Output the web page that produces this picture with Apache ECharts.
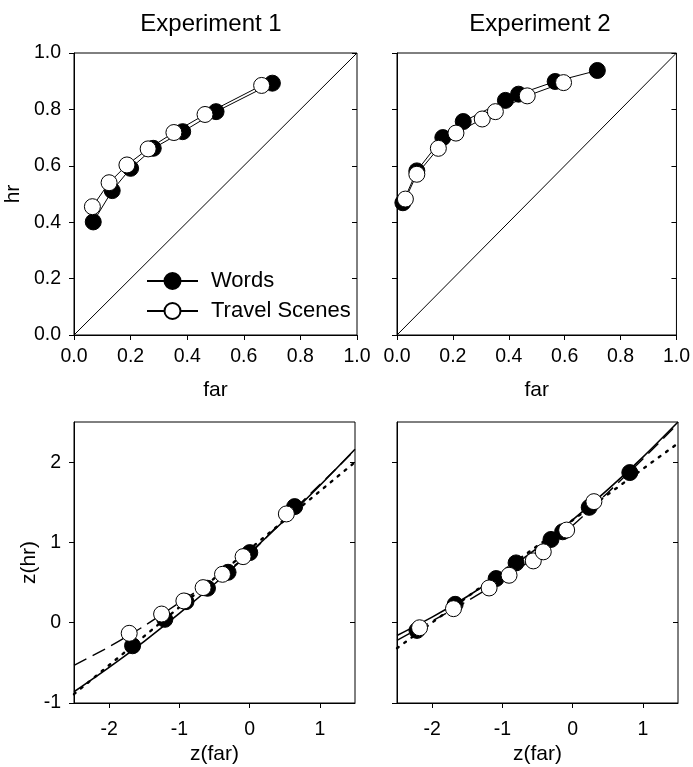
<!DOCTYPE html>
<html>
<head>
<meta charset="utf-8">
<script src="https://cdn.jsdelivr.net/npm/echarts@6/dist/echarts.min.js"></script>
<style>html,body{margin:0;padding:0;background:#fff}#c{width:693px;height:767px}</style>
</head>
<body>
<div id="c"></div>
<script>
// ---- Data ----
const panelTitles = ['Experiment 1', 'Experiment 2'];
const probTicks = [0, 0.2, 0.4, 0.6, 0.8, 1.0];
const zXTicks = [-2, -1, 0, 1];
const zYTicks = [-1, 0, 1, 2];

const exp1WordsFar  = [0.068, 0.135, 0.200, 0.280, 0.384, 0.502, 0.701];
const exp1WordsHr   = [0.401, 0.512, 0.591, 0.662, 0.721, 0.792, 0.893];
const exp1ScenesFar = [0.065, 0.124, 0.187, 0.262, 0.353, 0.463, 0.663];
const exp1ScenesHr  = [0.455, 0.540, 0.603, 0.660, 0.718, 0.782, 0.885];

const exp2WordsFar  = [0.021, 0.071, 0.164, 0.237, 0.388, 0.435, 0.566, 0.717];
const exp2WordsHr   = [0.469, 0.582, 0.700, 0.757, 0.832, 0.854, 0.899, 0.938];
const exp2ScenesFar = [0.030, 0.071, 0.148, 0.211, 0.305, 0.352, 0.466, 0.596];
const exp2ScenesHr  = [0.482, 0.570, 0.662, 0.716, 0.766, 0.792, 0.848, 0.895];

const chanceX = [0, 1];
const chanceY = [0, 1];

const zExp1WordsFar  = [-1.666, -1.207, -0.906, -0.600, -0.307, 0.002, 0.641];
const zExp1WordsHr   = [-0.287, 0.042, 0.262, 0.429, 0.628, 0.873, 1.446];
const zExp1ScenesFar = [-1.714, -1.253, -0.936, -0.662, -0.386, -0.093, 0.523];
const zExp1ScenesHr  = [-0.132, 0.108, 0.271, 0.437, 0.603, 0.823, 1.355];

const zExp2WordsFar  = [-2.216, -1.672, -1.089, -0.805, -0.308, -0.142, 0.236, 0.814];
const zExp2WordsHr   = [-0.096, 0.229, 0.550, 0.745, 1.037, 1.133, 1.437, 1.870];
const zExp2ScenesFar = [-2.179, -1.696, -1.189, -0.905, -0.560, -0.418, -0.085, 0.303];
const zExp2ScenesHr  = [-0.063, 0.175, 0.433, 0.591, 0.770, 0.883, 1.154, 1.508];

// fitted curves
const fitX = [-2.5, -2, -1.5, -1, -0.5, 0, 0.5, 1, 1.5];
const fit1SolidY  = [-0.86, -0.556, -0.231, 0.115, 0.482, 0.87, 1.279, 1.709, 2.16];
const fit1DashedY = [-0.53, -0.30, -0.04, 0.25, 0.54, 0.86, 1.30, 1.72, 2.15];
const fit1DotX = [-2.5, 1.5];
const fit1DotY = [-0.89, 2.0];
const fit2SolidY  = [-0.16, 0.069, 0.327, 0.615, 0.933, 1.28, 1.657, 2.063, 2.5];
const fit2DashedY = [-0.22, 0.02, 0.27, 0.54, 0.84, 1.21, 1.62, 2.04, 2.48];
const fit2DotX = [-2.5, 1.5];
const fit2DotY = [-0.317, 2.235];

// ---- helpers ----
const FONT = '"Liberation Sans", Arial, sans-serif';
const TICK_FS = 19.5;
const NAME_FS = 21;
const zip = (a, b) => a.map((v, i) => [v, b[i]]);

const grids = [
  { left: 74, top: 53, width: 283, height: 282 },
  { left: 397, top: 53, width: 282, height: 282 },
  { left: 74, top: 422, width: 281, height: 281 },
  { left: 397, top: 422, width: 281, height: 281 }
].map(g => Object.assign({ show: true, borderColor: '#000', borderWidth: 1, containLabel: false }, g));

function xAx(gi, isZ) {
  const base = {
    gridIndex: gi, type: 'value', position: 'bottom',
    axisLine: { show: true, onZero: false, lineStyle: { color: '#000', width: 1 } },
    axisTick: { show: true, inside: false, length: 5, lineStyle: { color: '#000' } },
    splitLine: { show: false },
    axisLabel: { color: '#000', fontSize: TICK_FS, fontFamily: FONT },
    nameLocation: 'middle',
    nameTextStyle: { color: '#000', fontSize: NAME_FS, fontFamily: FONT }
  };
  if (isZ) {
    base.min = -2.5; base.max = 1.5;
    base.axisTick.customValues = zXTicks;
    base.axisLabel.customValues = zXTicks;
    base.axisLabel.margin = 17;
    base.name = 'z(far)'; base.nameGap = 41;
  } else {
    base.min = 0; base.max = 1; base.interval = 0.2;
    base.axisTick.customValues = probTicks;
    base.axisLabel.customValues = probTicks;
    base.axisLabel.formatter = v => v.toFixed(1);
    base.axisLabel.margin = 12;
    base.name = 'far'; base.nameGap = 45;
  }
  return base;
}
function yAx(gi, isZ, showLabels, right) {
  const base = {
    gridIndex: gi, type: 'value', position: right ? 'right' : 'left',
    axisLine: { show: !right, onZero: false, lineStyle: { color: '#000', width: 1 } },
    axisTick: { show: true, inside: !!right, length: 5, lineStyle: { color: '#000' } },
    splitLine: { show: false },
    axisLabel: { show: showLabels && !right, color: '#000', fontSize: TICK_FS, fontFamily: FONT, margin: 13 },
    nameLocation: 'middle',
    nameTextStyle: { color: '#000', fontSize: NAME_FS, fontFamily: FONT }
  };
  if (isZ) {
    base.min = -1; base.max = 2.5;
    base.axisTick.customValues = zYTicks;
    base.axisLabel.customValues = zYTicks;
    if (showLabels && !right) { base.name = 'z(hr)'; base.nameGap = 32; }
  } else {
    base.min = 0; base.max = 1; base.interval = 0.2;
    base.axisTick.customValues = probTicks;
    base.axisLabel.customValues = probTicks;
    base.axisLabel.formatter = v => v.toFixed(1);
    if (showLabels && !right) { base.name = 'hr'; base.nameGap = 50; }
  }
  return base;
}

const xAxis = [xAx(0, false), xAx(1, false), xAx(2, true), xAx(3, true)];
const yAxis = [
  yAx(0, false, true, false), yAx(1, false, false, false),
  yAx(2, true, true, false), yAx(3, true, false, false),
  yAx(0, false, false, true), yAx(1, false, false, true),
  yAx(2, true, false, true), yAx(3, true, false, true)
];

const SYM = 16;
function wordsSeries(xi, data, withLine) {
  return {
    name: 'Words', type: withLine ? 'line' : 'scatter', xAxisIndex: xi, yAxisIndex: xi,
    data: data, symbol: 'circle', symbolSize: SYM, z: 3,
    itemStyle: { color: '#000', borderColor: '#000', borderWidth: 1, opacity: 1 },
    lineStyle: { color: '#000', width: 1 }, animation: false, silent: true
  };
}
function scenesSeries(xi, data, withLine) {
  return {
    name: 'Travel Scenes', type: withLine ? 'line' : 'scatter', xAxisIndex: xi, yAxisIndex: xi,
    data: data, symbol: 'circle', symbolSize: SYM, z: 4,
    itemStyle: { color: '#fff', borderColor: '#000', borderWidth: 1, opacity: 1 },
    lineStyle: { color: '#000', width: 1 }, animation: false, silent: true
  };
}
function fitLine(xi, data, type, width) {
  return {
    type: 'line', xAxisIndex: xi, yAxisIndex: xi, data: data, showSymbol: false, symbol: 'none',
    smooth: type === 'dotted' ? false : 0.3, z: 2, clip: true,
    lineStyle: { color: '#000', width: width, type: type === 'solid' ? 'solid' : (type === 'dashed' ? [14, 7] : [2, 7]), cap: type === 'dotted' ? 'round' : 'butt' },
    animation: false, silent: true
  };
}

const series = [
  { type: 'line', xAxisIndex: 0, yAxisIndex: 0, data: zip(chanceX, chanceY), symbol: 'none', lineStyle: { color: '#000', width: 1 }, z: 1, animation: false, silent: true },
  { type: 'line', xAxisIndex: 1, yAxisIndex: 1, data: zip(chanceX, chanceY), symbol: 'none', lineStyle: { color: '#000', width: 1 }, z: 1, animation: false, silent: true },
  wordsSeries(0, zip(exp1WordsFar, exp1WordsHr), true),
  scenesSeries(0, zip(exp1ScenesFar, exp1ScenesHr), true),
  wordsSeries(1, zip(exp2WordsFar, exp2WordsHr), true),
  scenesSeries(1, zip(exp2ScenesFar, exp2ScenesHr), true),
  fitLine(2, zip(fitX, fit1SolidY), 'solid', 1.6),
  fitLine(2, zip(fitX, fit1DashedY), 'dashed', 1.4),
  fitLine(2, zip(fit1DotX, fit1DotY), 'dotted', 2.4),
  fitLine(3, zip(fitX, fit2SolidY), 'solid', 1.6),
  fitLine(3, zip(fitX, fit2DashedY), 'dashed', 1.4),
  fitLine(3, zip(fit2DotX, fit2DotY), 'dotted', 2.4),
  wordsSeries(2, zip(zExp1WordsFar, zExp1WordsHr), false),
  scenesSeries(2, zip(zExp1ScenesFar, zExp1ScenesHr), false),
  wordsSeries(3, zip(zExp2WordsFar, zExp2WordsHr), false),
  scenesSeries(3, zip(zExp2ScenesFar, zExp2ScenesHr), false)
];

const chart = echarts.init(document.getElementById('c'), null, { renderer: 'canvas' });
chart.setOption({
  backgroundColor: '#fff',
  animation: false,
  textStyle: { fontFamily: FONT },
  grid: grids,
  xAxis: xAxis,
  yAxis: yAxis,
  legend: {
    data: ['Words', 'Travel Scenes'],
    orient: 'vertical', left: 146, top: 270, padding: 0,
    itemWidth: 51, itemHeight: 20, itemGap: 8,
    selectedMode: false,
    textStyle: { color: '#000', fontSize: 22, fontFamily: FONT, padding: [0, 0, 0, 8] }
  },
  graphic: [
    { type: 'text', x: 211, y: 24, style: { text: panelTitles[0], font: '24px ' + FONT, fill: '#000', textAlign: 'center', textVerticalAlign: 'middle' } },
    { type: 'text', x: 540, y: 24, style: { text: panelTitles[1], font: '24px ' + FONT, fill: '#000', textAlign: 'center', textVerticalAlign: 'middle' } }
  ],
  series: series
});
</script>
</body>
</html>
